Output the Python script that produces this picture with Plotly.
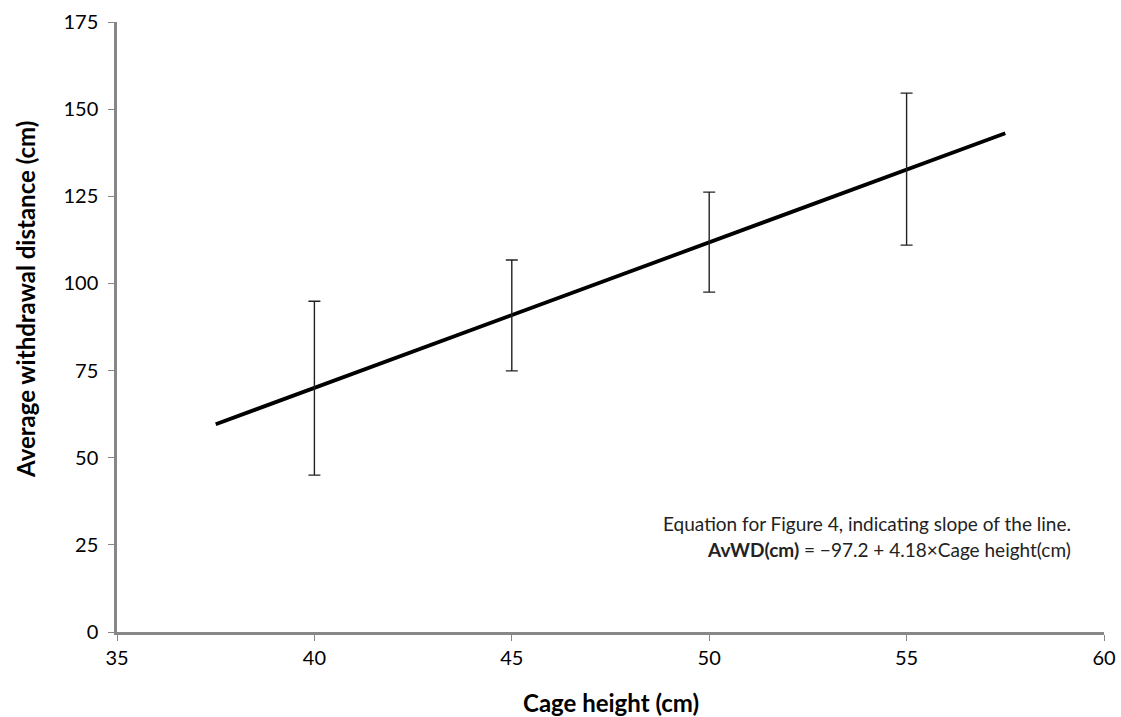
import plotly.graph_objects as go

# Data
cage_height = [40, 45, 50, 55]
avg_wd = [70.0, 90.9, 111.8, 132.7]
err_up = [24.9, 15.8, 14.4, 21.9]
err_down = [25.0, 16.0, 14.3, 21.7]

fit_x = [37.5, 57.5]
fit_y = [59.6, 143.1]

x_ticks = [35, 40, 45, 50, 55, 60]
y_ticks = [0, 25, 50, 75, 100, 125, 150, 175]

FONT = "Lato"
AXIS_COLOR = "#878787"

# plot area in pixels
L, R, T, B = 117, 1104, 22, 632
W, H = 1121, 717


def px_x(px):
    return (px - L) / (R - L)


def px_y(py):
    return (B - py) / (B - T)


fig = go.Figure()

fig.add_trace(go.Scatter(
    x=fit_x, y=fit_y, mode="lines",
    line=dict(color="black", width=3.8),
    showlegend=False, hoverinfo="skip",
))

fig.add_trace(go.Scatter(
    x=cage_height, y=avg_wd, mode="markers",
    marker=dict(size=1, color="rgba(0,0,0,0)"),
    error_y=dict(type="data", symmetric=False, array=err_up, arrayminus=err_down,
                 color="#222222", thickness=1.4, width=6),
    showlegend=False,
))

annotations = [
    dict(
        x=px_x(1073), y=px_y(523),
        xref="paper", yref="paper", xanchor="right", yanchor="middle",
        text="Equation for Figure 4, indicating slope of the line.",
        showarrow=False, font=dict(family=FONT, size=19, color="#222222"),
    ),
    dict(
        x=px_x(1073), y=px_y(549),
        xref="paper", yref="paper", xanchor="right", yanchor="middle",
        text="<b>AvWD(cm)</b> = \u221297.2 + 4.18\u00d7Cage height(cm)",
        showarrow=False, font=dict(family=FONT, size=19, color="#222222"),
    ),
    dict(
        x=px_x(611), y=px_y(703),
        xref="paper", yref="paper", xanchor="center", yanchor="middle",
        text="<b>Cage height (cm)</b>",
        showarrow=False, font=dict(family=FONT, size=24, color="black"),
    ),
    dict(
        x=px_x(25), y=px_y(300),
        xref="paper", yref="paper", xanchor="center", yanchor="middle",
        text="<b>Average withdrawal distance (cm)</b>", textangle=-90,
        showarrow=False, font=dict(family=FONT, size=24, color="black"),
    ),
]

fig.update_layout(
    width=W, height=H,
    margin=dict(l=L, r=W - R, t=T, b=H - B, autoexpand=False),
    paper_bgcolor="white", plot_bgcolor="white",
    font=dict(family=FONT, color="black", size=15),
    annotations=annotations,
)

fig.update_xaxes(
    range=[35, 60], tickvals=x_ticks, showgrid=False, zeroline=False,
    showline=True, linecolor=AXIS_COLOR, linewidth=2.5,
    ticks="outside", ticklen=6, tickcolor=AXIS_COLOR, tickwidth=1.2,
    tickfont=dict(family=FONT, size=20, color="black"),
    automargin=False,
)
fig.update_yaxes(
    range=[0, 175], tickvals=y_ticks, showgrid=False, zeroline=False,
    showline=True, linecolor=AXIS_COLOR, linewidth=2.5,
    ticks="outside", ticklen=6, tickcolor=AXIS_COLOR, tickwidth=1.2,
    tickfont=dict(family=FONT, size=20, color="black"),
    ticklabelstandoff=6,
    automargin=False,
)

fig.write_html(
    "out.html",
    config={"displayModeBar": False},
    post_script="document.body.style.margin='0';document.body.style.overflow='hidden';",
)
